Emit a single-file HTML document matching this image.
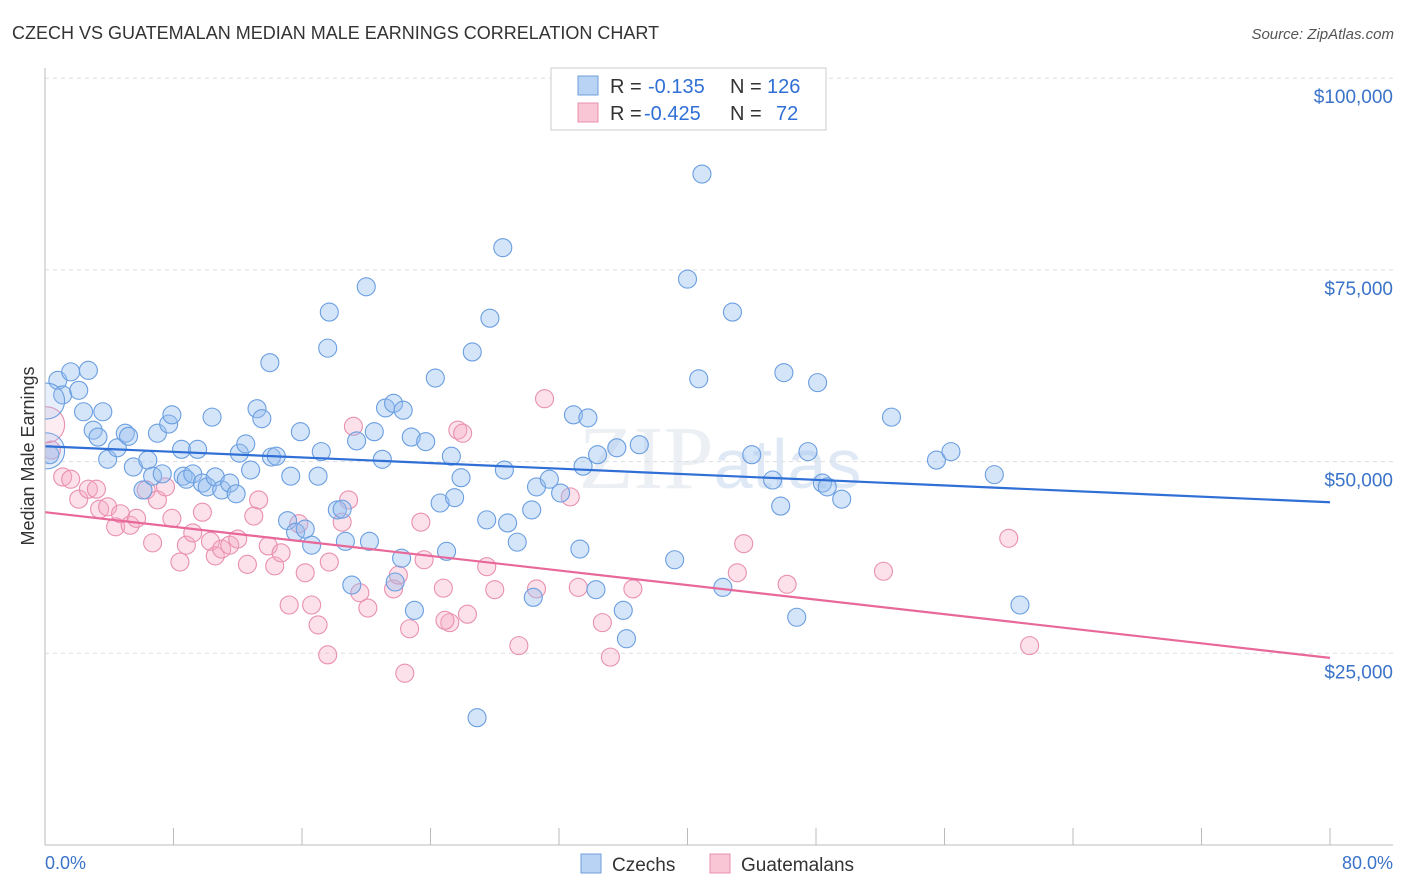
<!DOCTYPE html>
<html><head><meta charset="utf-8"><style>
body{margin:0;background:#fff;font-family:"Liberation Sans",sans-serif;}
#wrap{position:relative;width:1406px;height:892px;overflow:hidden;}
</style></head><body>
<div id="wrap">
<svg id="svg" width="1406" height="892" xmlns="http://www.w3.org/2000/svg">
<defs><clipPath id="plotclip"><rect x="45" y="60" width="1360" height="785"/></clipPath></defs>
<text x="12" y="39" font-size="18" fill="#333">CZECH VS GUATEMALAN MEDIAN MALE EARNINGS CORRELATION CHART</text>
<text x="1394" y="39" font-size="15" fill="#555" font-style="italic" text-anchor="end">Source: ZipAtlas.com</text>
<text transform="translate(34,456) rotate(-90)" font-size="18" fill="#333" text-anchor="middle">Median Male Earnings</text>
<text x="720" y="488" font-size="90" fill="#eceff4" text-anchor="middle" font-family="Liberation Serif,serif">ZIP<tspan font-family="Liberation Sans,sans-serif" font-size="70" fill="#dfe9f6">atlas</tspan></text>
<g id="grid"></g><g id="pts" clip-path="url(#plotclip)"></g><g id="lines"></g>
<line x1="45" y1="68" x2="45" y2="845" stroke="#bbb"/>
<line x1="45" y1="845" x2="1393" y2="845" stroke="#bbb"/>
<text x="45" y="869" font-size="18" fill="#3a73c9">0.0%</text>
<text x="1393" y="869" font-size="18" fill="#3a73c9" text-anchor="end">80.0%</text>
<g>
<rect x="551" y="68" width="275" height="62" fill="#fff" stroke="#ccc"/>
<rect x="578" y="76" width="20" height="19" fill="#b9d3f5" stroke="#6f9fd8"/>
<rect x="578" y="103" width="20" height="19" fill="#f9c6d6" stroke="#e890ad"/>
<text x="610" y="93" font-size="20" fill="#333">R = <tspan fill="#2f6fd6" x="648">-0.135</tspan><tspan x="730">N =</tspan><tspan fill="#2f6fd6" x="767">126</tspan></text>
<text x="610" y="120" font-size="20" fill="#333">R = <tspan fill="#2f6fd6" x="644">-0.425</tspan><tspan x="730">N =</tspan><tspan fill="#2f6fd6" x="776">72</tspan></text>
</g>
<g>
<rect x="581" y="854" width="20" height="19" fill="#b9d3f5" stroke="#6f9fd8"/>
<text x="612" y="871" font-size="19" fill="#333">Czechs</text>
<rect x="710" y="854" width="20" height="19" fill="#f9c6d6" stroke="#e890ad"/>
<text x="741" y="871" font-size="19" fill="#333">Guatemalans</text>
</g>
</svg>
</div>
<script>
const yTicks=[25000,50000,75000,100000];
const yTickLabels=["$25,000","$50,000","$75,000","$100,000"];
const xTicks=[0,8,16,24,32,40,48,56,64,72,80];
const czX=[0.8,1.6,2.7,1.1,2.1,2.4,3.6,3.0,3.3,0.3,3.9,4.5,5.0,5.2,5.5,6.1,6.4,6.7,7.0,7.7,7.9,7.3,8.5,8.6,8.8,9.2,9.5,9.8,10.1,10.4,10.6,11.0,11.5,11.9,12.1,12.5,12.8,13.2,13.5,14.0,14.1,14.4,15.3,15.9,15.1,15.6,16.2,16.6,17.0,17.2,17.6,17.7,18.2,18.5,18.7,19.1,19.4,20.0,20.2,20.5,21.0,21.2,21.7,22.3,22.8,23.7,22.2,23.0,24.3,24.6,25.0,25.3,25.5,25.9,26.6,27.5,27.7,28.5,28.6,28.8,29.4,30.3,30.4,30.6,31.4,32.1,32.9,33.8,33.3,33.5,34.3,34.4,35.6,36.0,36.2,37.0,39.2,40.0,40.7,40.9,42.2,42.8,44.0,45.3,45.8,46.0,46.8,47.5,48.1,48.4,48.7,49.6,52.7,55.5,56.4,59.1,60.7,26.9,21.8,0.1,0.1];
const czY=[60.6,61.7,61.9,58.7,59.3,56.5,56.5,54.1,53.2,50.9,50.3,51.8,53.7,53.3,49.3,46.3,50.2,48.1,53.7,54.9,56.1,48.4,51.6,48.1,47.7,48.4,51.6,47.2,46.7,55.8,48.0,46.3,47.2,45.8,51.1,52.3,48.9,56.9,55.6,62.9,50.6,50.7,48.1,53.9,42.3,40.8,41.2,39.1,48.1,51.3,64.8,69.5,43.7,43.8,39.6,33.9,52.7,72.8,39.6,53.9,50.3,57.0,57.6,56.7,53.2,52.6,37.4,30.6,60.9,44.6,38.3,50.7,45.3,47.9,64.3,42.4,68.7,77.9,48.9,42.0,39.5,43.7,32.3,46.7,47.7,45.9,56.1,55.7,38.6,49.4,33.3,50.9,51.8,30.6,26.9,52.2,37.2,73.8,60.8,87.5,33.6,69.5,50.9,47.6,44.2,61.6,29.7,51.3,60.3,47.2,46.7,45.1,55.8,50.2,51.3,48.3,31.3,16.6,34.3,57.9,51.4];
const gtX=[0.4,1.1,1.6,2.1,2.7,3.2,3.4,3.9,4.4,4.7,5.3,5.7,6.3,6.7,7.0,7.5,7.9,8.4,8.8,9.2,9.8,10.3,10.6,11.0,11.5,12.0,12.6,13.0,13.3,13.9,14.3,14.7,15.2,15.8,16.2,16.6,17.0,17.6,17.7,18.5,18.9,19.2,19.6,20.1,21.7,22.0,22.4,22.7,23.4,23.6,24.8,25.2,25.7,26.0,26.3,27.5,28.0,29.5,30.6,31.1,32.7,33.2,34.7,35.2,36.6,43.1,43.5,46.2,52.2,60.0,61.3,24.9,0.1];
const gtY=[51.5,48.0,47.7,45.1,46.4,46.4,43.8,44.1,41.5,43.2,41.7,42.6,46.3,39.4,45.0,46.7,42.6,36.9,39.1,40.7,43.4,39.6,37.7,38.6,39.1,39.9,36.6,42.9,45.0,39.0,36.4,38.1,31.3,41.9,35.5,31.3,28.7,24.8,36.9,42.1,45.0,54.6,32.9,30.9,33.4,35.2,22.4,28.2,42.1,37.2,33.5,29.0,54.1,53.7,30.1,36.3,33.3,26.0,33.4,58.2,45.4,33.6,29.0,24.5,33.4,35.5,39.3,34.0,35.7,40.0,26.0,29.3,54.8];
const czTrend=[52.0,44.7];
const gtTrend=[43.4,24.4];
const NS="http://www.w3.org/2000/svg";
const sx=v=>45+v/80*1285;
const sy=v=>845-v/25000*191.7;
function mk(t,a,p){const e=document.createElementNS(NS,t);for(const k in a)e.setAttribute(k,a[k]);p.appendChild(e);return e;}
const grid=document.getElementById('grid');
yTicks.forEach((t,i)=>{
 const l=mk('line',{x1:45,x2:1393,y1:sy(t),y2:sy(t),stroke:'#ddd','stroke-dasharray':'4,4'},grid);
 
 
 const tx=mk('text',{x:1393,y:sy(t)+25,'font-size':19,fill:'#3a73c9','text-anchor':'end'},grid);
 tx.textContent=yTickLabels[i];
 
 
});
xTicks.forEach(t=>{
 const l=mk('line',{x1:sx(t),x2:sx(t),y1:828,y2:845,stroke:'#bbb'},grid);
 
 
});
const pts=document.getElementById('pts');
function draw(X,Y,fill,stroke,name,bigFrom){
 X.forEach((x,i)=>{
  const r=i>=bigFrom?18:9;
  const c=mk('circle',{cx:sx(x),cy:sy(Y[i]*1000),r:r,fill:fill,stroke:stroke,'stroke-width':1.1,'fill-opacity':i>=bigFrom?0.6:1},pts);
  
  
 });
}
draw(gtX,gtY,'rgba(245,170,195,0.35)','#e98fb0','guatemalan-point',gtX.length-1);
draw(czX,czY,'rgba(150,190,240,0.4)','#6a9ee0','czech-point',czX.length-2);
const lines=document.getElementById('lines');
const b=mk('line',{x1:sx(0),y1:sy(czTrend[0]*1000),x2:sx(80),y2:sy(czTrend[1]*1000),stroke:'#2f6fd6','stroke-width':2.2},lines);


const p=mk('line',{x1:sx(0),y1:sy(gtTrend[0]*1000),x2:sx(80),y2:sy(gtTrend[1]*1000),stroke:'#e8689a','stroke-width':2.2},lines);


</script>
</body></html>
